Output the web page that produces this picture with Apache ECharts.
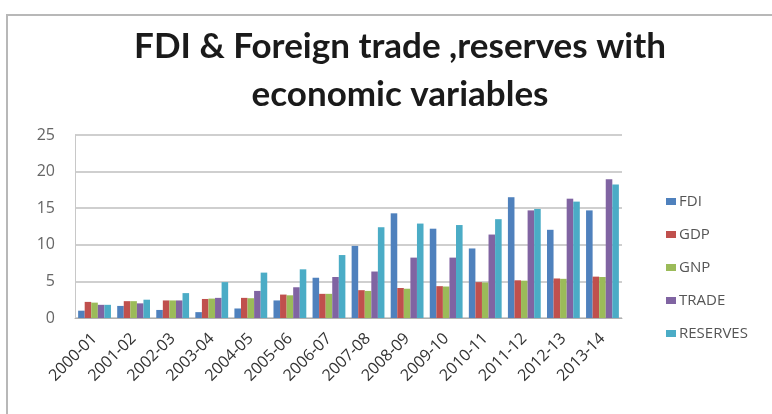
<!DOCTYPE html>
<html>
<head>
<meta charset="utf-8">
<script src="https://cdn.jsdelivr.net/npm/echarts@6/dist/echarts.min.js"></script>
<style>
  html, body { margin: 0; padding: 0; background: #fff; }
  #chart { width: 772px; height: 414px; }
</style>
</head>
<body>
<div id="chart"></div>
<script>
// values
var years = ['2000-01', '2001-02', '2002-03', '2003-04', '2004-05', '2005-06', '2006-07',
             '2007-08', '2008-09', '2009-10', '2010-11', '2011-12', '2012-13', '2013-14'];
var fdi      = [1.0, 1.65, 1.1, 0.8, 1.3, 2.4, 5.5, 9.85, 14.3, 12.2, 9.5, 16.5, 12.05, 14.7];
var gdp      = [2.2, 2.3, 2.4, 2.6, 2.75, 3.2, 3.3, 3.8, 4.1, 4.35, 4.9, 5.15, 5.4, 5.65];
var gnp      = [2.1, 2.3, 2.4, 2.65, 2.7, 3.1, 3.3, 3.7, 4.0, 4.3, 4.85, 5.1, 5.35, 5.6];
var trade    = [1.8, 2.0, 2.4, 2.75, 3.7, 4.2, 5.6, 6.35, 8.25, 8.25, 11.4, 14.7, 16.3, 18.95];
var reserves = [1.8, 2.5, 3.4, 4.9, 6.2, 6.65, 8.6, 12.4, 12.9, 12.7, 13.5, 14.9, 15.9, 18.25];
var yTicks = [0, 5, 10, 15, 20, 25];

var names = ['FDI', 'GDP', 'GNP', 'TRADE', 'RESERVES'];
var colors = ['#4F81BD', '#C0504D', '#9BBB59', '#8064A2', '#4BACC6'];
var seriesData = [fdi, gdp, gnp, trade, reserves];

var chart = echarts.init(document.getElementById('chart'));
chart.setOption({
  animation: false,
  title: {
    text: 'FDI & Foreign trade ,reserves with\neconomic variables',
    left: 395, top: 18, textAlign: 'center',
    textStyle: { fontFamily: 'Lato', fontWeight: 'bold', fontSize: 35, lineHeight: 48, color: '#1a1a1a' }
  },
  graphic: [{
    type: 'rect', shape: { x: 7, y: 15, width: 800, height: 450 },
    style: { fill: 'none', stroke: '#b8b8b8', lineWidth: 2 }, silent: true
  }],
  legend: {
    orient: 'vertical', left: 661, top: 189, itemGap: 18,
    itemWidth: 10, itemHeight: 7, icon: 'rect',
    textStyle: { fontFamily: 'Open Sans', fontSize: 15, color: '#555', padding: [0, 0, 0, -2] },
    data: names
  },
  grid: { left: 75, right: 150, top: 135, bottom: 96 },
  xAxis: {
    type: 'category', data: years,
    axisLine: { lineStyle: { color: '#b0b0b0' } },
    axisTick: { show: false },
    axisLabel: { rotate: 45, margin: 18, interval: 0, fontFamily: 'Open Sans', fontSize: 16, color: '#333' }
  },
  yAxis: {
    type: 'value', min: yTicks[0], max: yTicks[yTicks.length - 1], interval: 5,
    axisLine: { show: true, lineStyle: { color: '#c8c8c8' } },
    axisTick: { show: false },
    splitLine: { lineStyle: { color: '#cfcfcf', width: 2 } },
    axisLabel: { margin: 20, fontFamily: 'Open Sans', fontSize: 16, color: '#666' }
  },
  series: seriesData.map(function(d, i) {
    return {
      name: names[i], type: 'bar', data: d, barGap: '0%', barCategoryGap: '16%',
      itemStyle: { color: colors[i] }
    };
  })
});
</script>
</body>
</html>
